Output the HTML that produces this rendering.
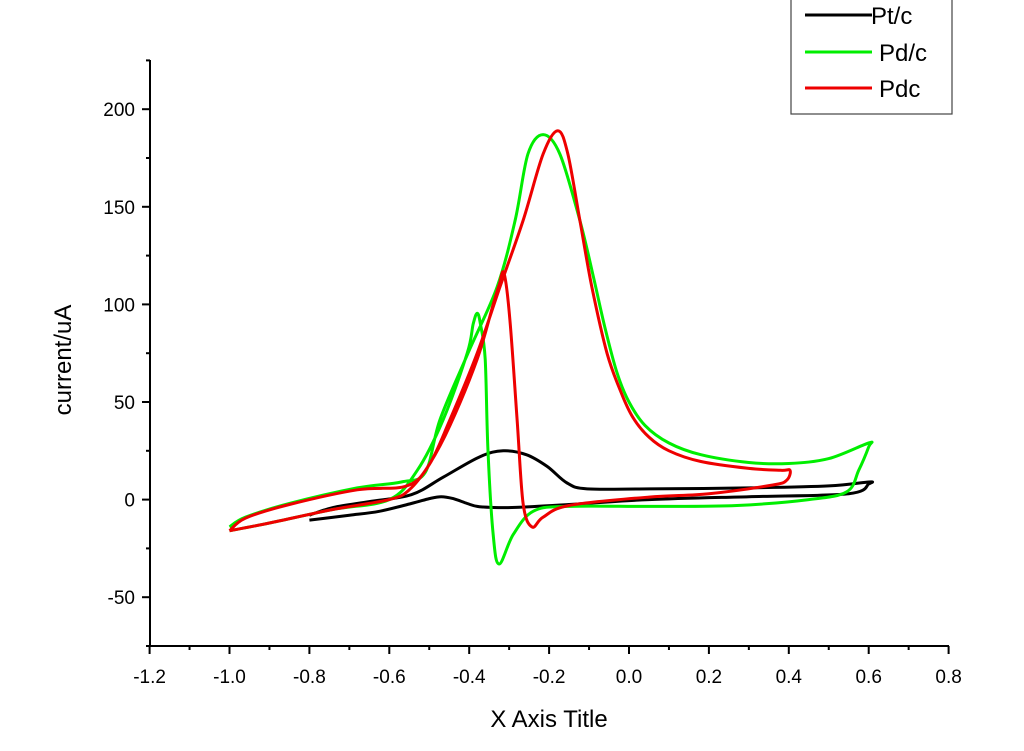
<!DOCTYPE html>
<html><head><meta charset="utf-8"><style>
body{margin:0;background:#fff}
svg text{font-family:"Liberation Sans",Arial,sans-serif;fill:#000}
</style></head><body>
<svg id="chart" width="1024" height="746" xmlns="http://www.w3.org/2000/svg">
<g id="axes"></g>
<g id="series"></g>
<text x="549" y="727" font-size="24" text-anchor="middle">X Axis Title</text>
<text transform="translate(71,360) rotate(-90)" font-size="24" text-anchor="middle">current/uA</text>
<g>
<rect x="791" y="-2" width="161" height="116" fill="#fff" stroke="#444" stroke-width="1.2"/>
<g><line x1="805" y1="15" x2="872" y2="15" stroke="#000" stroke-width="3"/><text x="871" y="24" font-size="24">Pt/c</text></g>
<g><line x1="805" y1="52" x2="872" y2="52" stroke="#00ee00" stroke-width="3"/><text x="879" y="61" font-size="24">Pd/c</text></g>
<g><line x1="805" y1="88" x2="872" y2="88" stroke="#ee0000" stroke-width="3"/><text x="879" y="97" font-size="24">Pdc</text></g>
</g>
</svg>
<script>
const xTicks=[-1.2,-1.0,-0.8,-0.6,-0.4,-0.2,0.0,0.2,0.4,0.6,0.8];
const yTicks=[-50,0,50,100,150,200];
const ptcX=[-0.8,-0.74,-0.65,-0.545,-0.465,-0.373,-0.315,-0.257,-0.205,-0.155,-0.105,0.05,0.3,0.5,0.6,0.6,0.55,0.3,0.05,-0.15,-0.283,-0.345,-0.38,-0.405,-0.44,-0.47,-0.5,-0.545,-0.625,-0.7,-0.8];
const ptcY=[-8,-4,-1,2.5,11.5,22,25,23,17,8.5,5.5,5.5,6,7,9,8,3,1.5,0,-2.5,-4,-4,-3.5,-2,0.5,1.5,0.5,-2,-6,-8,-10.5];
const pdX=[-1.0,-0.96,-0.85,-0.68,-0.57,-0.51,-0.473,-0.403,-0.33,-0.285,-0.253,-0.215,-0.173,-0.123,-0.09,-0.06,-0.03,0.0,0.04,0.1,0.18,0.3,0.4,0.5,0.6,0.6,0.575,0.545,0.45,0.27,0.07,-0.155,-0.24,-0.29,-0.325,-0.34,-0.353,-0.36,-0.372,-0.38,-0.39,-0.405,-0.465,-0.53,-0.6,-0.74,-0.9,-1.0];
const pdY=[-14,-9,-2,6,9,14,41,75,109,143,177,187,177,143,115,88,65,50,38,29,23,19,18.5,21,29,27,15,4,0,-3,-3.5,-3.5,-6,-18,-33,-18,25,72,90,95.5,90,75,41,15,0,-5,-12,-16];
const pdcX=[-1.0,-0.96,-0.85,-0.68,-0.556,-0.5,-0.448,-0.38,-0.323,-0.265,-0.215,-0.178,-0.153,-0.123,-0.093,-0.055,-0.02,0.01,0.05,0.1,0.18,0.3,0.38,0.403,0.395,0.36,0.2,0.05,-0.15,-0.215,-0.243,-0.265,-0.28,-0.298,-0.313,-0.325,-0.34,-0.38,-0.448,-0.5,-0.55,-0.6,-0.74,-0.9,-1.0];
const pdcY=[-16,-9.5,-2.5,5,7,18,41,75,109,143,177,189,177,143,109,75,55,42,32,25,19.5,16,15,15,10,7.5,3,1.3,-3,-9,-14,-2,41,92,116,110,100,72,38,18,5,0,-5,-12,-16];
const X=v=>629+v*399.5, Y=v=>499.6-v*1.952;
const NS="http://www.w3.org/2000/svg";
function mk(tag,attrs,parent){const e=document.createElementNS(NS,tag);for(const k in attrs)e.setAttribute(k,attrs[k]);parent.appendChild(e);return e;}
const axes=document.getElementById('axes');
const ax=mk('path',{d:`M150,60 V646 H949`,fill:'none',stroke:'#000','stroke-width':2},axes);


xTicks.forEach((t,i)=>{
  const tk=mk('line',{x1:X(t),x2:X(t),y1:646,y2:654,stroke:'#000','stroke-width':2},axes);
  
  
  if(i<xTicks.length-1){const m=mk('line',{x1:X(t+0.1),x2:X(t+0.1),y1:646,y2:650,stroke:'#000','stroke-width':2},axes);
  
  }
  const l=mk('text',{x:X(t),y:683,'font-size':19,'text-anchor':'middle'},axes);
  
  
  l.textContent=t.toFixed(1);
});
yTicks.forEach(t=>{
  const tk=mk('line',{x1:142,x2:150,y1:Y(t),y2:Y(t),stroke:'#000','stroke-width':2},axes);
  
  
  const l=mk('text',{x:135,y:Y(t)+7,'font-size':19,'text-anchor':'end'},axes);
  
  
  l.textContent=t;
});
[-75,-25,25,75,125,175,225].forEach(t=>{const m=mk('line',{x1:146,x2:150,y1:Y(t),y2:Y(t),stroke:'#000','stroke-width':2},axes);
  
  });
const sg=document.getElementById('series');
function draw(xs,ys,color,name){
  const P=xs.map((x,i)=>[X(x),Y(ys[i])]);
  let d='M'+P[0][0].toFixed(1)+','+P[0][1].toFixed(1);
  for(let i=0;i<P.length-1;i++){
    const p0=P[Math.max(0,i-1)],p1=P[i],p2=P[i+1],p3=P[Math.min(P.length-1,i+2)];
    const c1=[p1[0]+(p2[0]-p0[0])/6,p1[1]+(p2[1]-p0[1])/6];
    const c2=[p2[0]-(p3[0]-p1[0])/6,p2[1]-(p3[1]-p1[1])/6];
    d+=` C${c1[0].toFixed(1)},${c1[1].toFixed(1)} ${c2[0].toFixed(1)},${c2[1].toFixed(1)} ${p2[0].toFixed(1)},${p2[1].toFixed(1)}`;
  }
  const p=mk('path',{d:d,fill:'none',stroke:color,'stroke-width':3,'stroke-linejoin':'round'},sg);
  
  
}
draw(ptcX,ptcY,'#000','series-ptc');
draw(pdX,pdY,'#00ee00','series-pd-c');
draw(pdcX,pdcY,'#ee0000','series-pdc');
</script>
</body></html>
